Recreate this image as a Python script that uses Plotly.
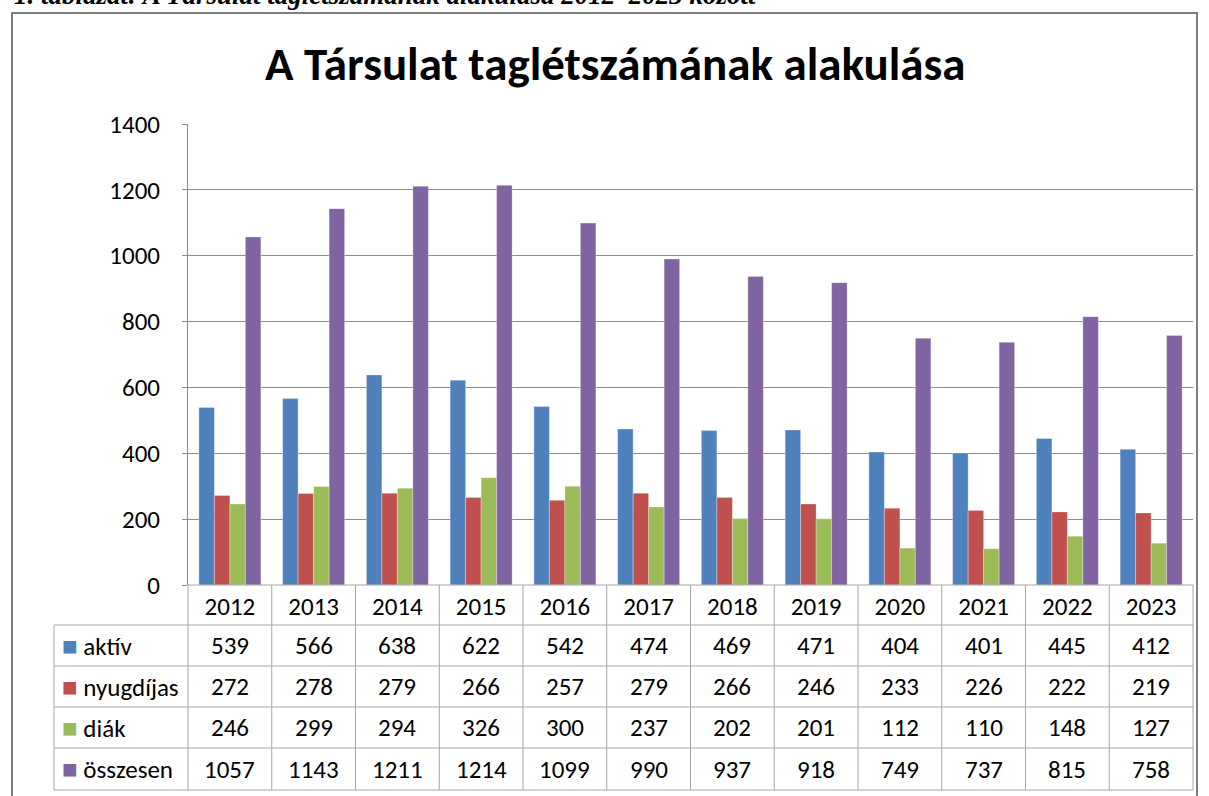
import plotly.graph_objects as go

years = ["2012", "2013", "2014", "2015", "2016", "2017", "2018", "2019", "2020", "2021", "2022", "2023"]
aktiv = [539, 566, 638, 622, 542, 474, 469, 471, 404, 401, 445, 412]
nyugdijas = [272, 278, 279, 266, 257, 279, 266, 246, 233, 226, 222, 219]
diak = [246, 299, 294, 326, 300, 237, 202, 201, 112, 110, 148, 127]
osszesen = [1057, 1143, 1211, 1214, 1099, 990, 937, 918, 749, 737, 815, 758]
series_names = ["aktív", "nyugdíjas", "diák", "összesen"]
series_colors = ["#4F81BD", "#C0504D", "#9BBB59", "#8064A2"]
series_values = [aktiv, nyugdijas, diak, osszesen]
y_ticks = [0, 200, 400, 600, 800, 1000, 1200, 1400]
title_text = "A Társulat taglétszámának alakulása"
caption_text = "1. táblázat: A Társulat taglétszámának alakulása 2012–2023 között"

W, H = 1209, 796
def px(x):
    return x / W
def py(y):
    return 1 - y / H

FONT = "Calibri, Carlito, Lato, sans-serif"
GRID = "#8c8c8c"
TBL = "#a6a6a6"
FS = 25

fig = go.Figure()
for name, col, vals in zip(series_names, series_colors, series_values):
    fig.add_trace(go.Bar(x=years, y=vals, name=name, marker=dict(color=col, line=dict(color="rgba(255,255,255,0.6)", width=0.5))))

plot_left, plot_right, plot_top, plot_bottom = 188, 1193, 124, 585
row_edges = [625, 666, 707, 748, 790]
label_left = 54
ncat = len(years)

shapes = []
# outer frame
shapes.append(dict(type="rect", xref="paper", yref="paper", x0=px(12), x1=px(1197), y0=py(810), y1=py(13),
                   line=dict(color="#7f7f7f", width=2), fillcolor="rgba(0,0,0,0)", layer="below"))
# table horizontal lines
shapes.append(dict(type="line", xref="paper", yref="paper", x0=px(plot_left), x1=px(plot_right), y0=py(plot_bottom), y1=py(plot_bottom), line=dict(color=TBL, width=1)))
for ye in row_edges:
    shapes.append(dict(type="line", xref="paper", yref="paper", x0=px(label_left), x1=px(plot_right), y0=py(ye), y1=py(ye), line=dict(color=TBL, width=1)))
# left border of label column
shapes.append(dict(type="line", xref="paper", yref="paper", x0=px(label_left), x1=px(label_left), y0=py(row_edges[0]), y1=py(row_edges[-1]), line=dict(color=TBL, width=1)))
# vertical separators at category boundaries
for i in range(ncat + 1):
    xb = plot_left + (plot_right - plot_left) * i / ncat
    shapes.append(dict(type="line", xref="paper", yref="paper", x0=px(xb), x1=px(xb), y0=py(plot_bottom), y1=py(row_edges[-1]), line=dict(color=TBL, width=1)))

annotations = []
annotations.append(dict(text="<b>" + title_text + "</b>", x=px(615), y=py(64), xref="paper", yref="paper",
                        showarrow=False, font=dict(family=FONT, size=47, color="#000000"), xanchor="center", yanchor="middle"))
annotations.append(dict(text="<b><i>" + caption_text + "</i></b>", x=px(12), y=py(-5), xref="paper", yref="paper",
                        showarrow=False, font=dict(family="Liberation Serif, Times New Roman, serif", size=27, color="#000000"),
                        xanchor="left", yanchor="middle"))
for r, (name, col, vals) in enumerate(zip(series_names, series_colors, series_values)):
    yc = (row_edges[r] + row_edges[r + 1]) / 2
    annotations.append(dict(text="<span style='color:%s;font-size:26px'>■</span> %s" % (col, name), x=px(label_left + 6), y=py(yc),
                            xref="paper", yref="paper", showarrow=False, xanchor="left", yanchor="middle",
                            font=dict(family=FONT, size=FS, color="#000000")))
    for i, v in enumerate(vals):
        annotations.append(dict(text=str(v), x=i, y=py(yc), xref="x", yref="paper", showarrow=False,
                                xanchor="center", yanchor="middle", font=dict(family=FONT, size=FS, color="#000000")))

fig.update_layout(
    width=W, height=H, margin=dict(l=0, r=0, t=0, b=0, autoexpand=False),
    paper_bgcolor="white", plot_bgcolor="white",
    barmode="group", bargap=0.26, bargroupgap=0,
    showlegend=False,
    xaxis=dict(domain=[px(plot_left), px(plot_right)], type="category", categoryorder="array", categoryarray=years,
               range=[-0.5, ncat - 0.5], autorange=False, automargin=False,
               showgrid=False, showline=False,
               ticks="", tickfont=dict(family=FONT, size=FS, color="#000000"), ticklabelstandoff=4),
    yaxis=dict(domain=[py(plot_bottom), py(plot_top)], range=[0, 1400], autorange=False, automargin=False,
               tickvals=y_ticks, showgrid=True,
               gridcolor=GRID, gridwidth=1, showline=True, linecolor=GRID, linewidth=1, zeroline=False,
               tickfont=dict(family=FONT, size=FS, color="#000000"), ticks="outside", ticklen=5, tickcolor=GRID,
               ticklabelstandoff=17),
    shapes=shapes, annotations=annotations,
)

fig.write_html("out.html", config={"displayModeBar": False},
               post_script="document.body.style.margin='0';document.body.style.overflow='hidden';")
